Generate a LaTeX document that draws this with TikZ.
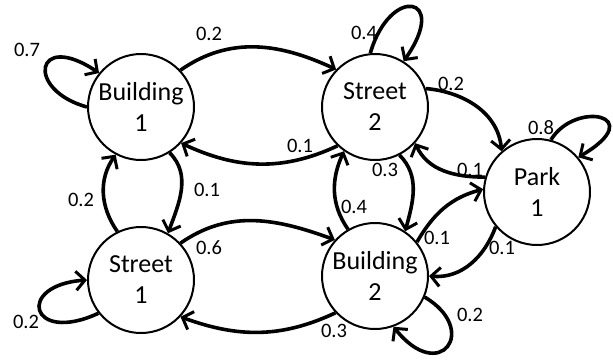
\documentclass[tikz,border=0pt]{standalone}
\usepackage{fontspec}
\setmainfont{Carlito}
\usetikzlibrary{arrows.meta}
\tikzset{
  state/.style={circle,draw,line width=2pt,minimum size=106pt,inner sep=0pt,align=center,font=\fontsize{26}{31}\selectfont},
  trans/.style={line width=3.6pt,-{Straight Barb[length=9pt,width=19pt,line width=3pt]}},
  prob/.style={font=\fontsize{20.5}{23}\selectfont,inner sep=0pt}
}
\begin{document}
\begin{tikzpicture}[x=1pt,y=1pt]
\useasboundingbox (0,0) rectangle (613,-362);
\node[state] (b1) at (141,-107) {Building\\1};
\node[state] (s2) at (375,-107) {Street\\2};
\node[state] (p1) at (537,-192) {Park\\1};
\node[state] (s1) at (141,-280) {Street\\1};
\node[state] (b2) at (375,-276) {Building\\2};

% self loops
\draw[trans] (b1.180) .. controls (25,-90) and (35,-30) .. (b1.141);
\draw[trans] (s2.95) .. controls (390,15) and (450,5) .. (s2.58);
\draw[trans] (p1.75) .. controls (575,-100) and (650,-115) .. (p1.40);
\draw[trans] (s1.218) .. controls (30,-345) and (15,-285) .. (s1.180);
\draw[trans] (b2.-23) .. controls (480,-330) and (440,-385) .. (b2.-70);

% transitions
\draw[trans] (b1.43) to[out=35,in=155] (s2.136);
\draw[trans] (s2.226) to[out=205,in=335] (b1.-42);
\draw[trans] (s2.20) to[out=-5,in=95] (p1.131);
\draw[trans] (p1.164) to[out=180,in=-65] (s2.-42);
\draw[trans] (s2.-63) to[out=-45,in=75] (b2.56);
\draw[trans] (b2.120) to[out=125,in=245] (s2.235);
\draw[trans] (b1.-58) to[out=-45,in=70] (s1.60);
\draw[trans] (s1.116) to[out=125,in=235] (b1.242);
\draw[trans] (s1.43) to[out=35,in=160] (b2.138);
\draw[trans] (b2.223) to[out=205,in=-20] (s1.-43);
\draw[trans] (b2.39) to[out=60,in=195] (p1.177);
\draw[trans] (p1.220) to[out=250,in=-5] (b2.0);

% labels
\node[prob] (l1) at (27,-50) {0.7};
\node[prob] (l2) at (209,-34) {0.2};
\node[prob] (l3) at (300,-146) {0.1};
\node[prob] (l4) at (364,-33) {0.4};
\node[prob] (l5) at (451,-84) {0.2};
\node[prob] (l6) at (541,-128) {0.8};
\node[prob] (l7) at (470,-170) {0.1};
\node[prob] (l8) at (385,-170) {0.3};
\node[prob] (l9) at (354,-207) {0.4};
\node[prob] (l10) at (437,-238) {0.1};
\node[prob] (l11) at (502,-248) {0.1};
\node[prob] (l12) at (470,-315) {0.2};
\node[prob] (l13) at (334,-331) {0.3};
\node[prob] (l14) at (207,-190) {0.1};
\node[prob] (l15) at (81,-200) {0.2};
\node[prob] (l16) at (209,-248) {0.6};
\node[prob] (l17) at (26,-322) {0.2};
\end{tikzpicture}
\end{document}
